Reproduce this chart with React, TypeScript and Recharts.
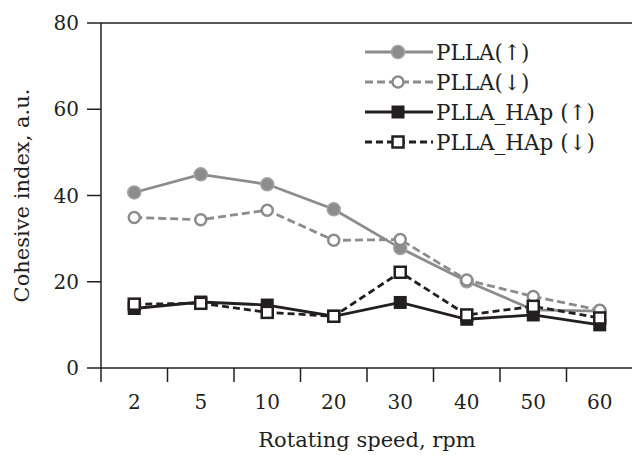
import { LineChart, Line, XAxis, YAxis, ReferenceLine } from "recharts"

// values
const SPEEDS = ["2", "5", "10", "20", "30", "40", "50", "60"]
const PLLA_UP = [40.7, 44.9, 42.6, 36.8, 27.8, 20.1, 13.5, 13.2]
const PLLA_DOWN = [34.9, 34.4, 36.6, 29.6, 29.8, 20.4, 16.6, 13.4]
const HAP_UP = [13.8, 15.3, 14.6, 12.0, 15.2, 11.3, 12.3, 10.0]
const HAP_DOWN = [14.8, 15.0, 12.9, 12.0, 22.2, 12.3, 14.3, 11.6]
const Y_TICKS = [0, 20, 40, 60, 80]

const INK = "#231f20"
const GREY = "#8c8c8c"
const FONT = "'DejaVu Serif', serif"

const W = 632
const H = 455
const PLOT_LEFT = 101
const AXIS_Y = 368
const BAND = (W + 1 - PLOT_LEFT) / SPEEDS.length

const SERIES = [
  { key: "pllaUp", name: "PLLA(↑)", color: GREY, dash: undefined, marker: "circle" },
  { key: "pllaDown", name: "PLLA(↓)", color: GREY, dash: "8 4", marker: "ring" },
  { key: "hapUp", name: "PLLA_HAp (↑)", color: INK, dash: undefined, marker: "square" },
  { key: "hapDown", name: "PLLA_HAp (↓)", color: INK, dash: "7 4", marker: "box" },
]

const data = SPEEDS.map((s, i) => ({
  speed: s,
  pllaUp: PLLA_UP[i],
  pllaDown: PLLA_DOWN[i],
  hapUp: HAP_UP[i],
  hapDown: HAP_DOWN[i],
}))

function Marker({ kind, cx, cy, color }: { kind: string; cx: number; cy: number; color: string }) {
  if (kind === "circle") return <circle cx={cx} cy={cy} r={6.5} fill={color} stroke="#a3a3a3" strokeWidth={1.5} />
  if (kind === "ring") return <circle cx={cx} cy={cy} r={5.5} fill="#fff" stroke={color} strokeWidth={2.5} />
  if (kind === "square") return <rect x={cx - 6.5} y={cy - 6.5} width={13} height={13} fill={color} />
  return <rect x={cx - 5.5} y={cy - 5.5} width={11} height={11} fill="#fff" stroke={color} strokeWidth={2.5} />
}

const dotFor = (kind: string, color: string) => (p: any) =>
  p.cx == null ? <g key={p.index} /> : <Marker key={p.index} kind={kind} cx={p.cx} cy={p.cy} color={color} />

// category label in the middle, tick mark on the left edge of the band
function SpeedTick(props: any) {
  const { x, y, payload } = props
  const bx = x - BAND / 2
  return (
    <g>
      <line x1={bx} y1={AXIS_Y} x2={bx} y2={AXIS_Y + 14} stroke={INK} strokeWidth={1.5} />
      <text x={x} y={y} dy="0.71em" textAnchor="middle" fill={INK} fontSize={20} fontFamily={FONT}>
        {payload.value}
      </text>
    </g>
  )
}

function LegendBox() {
  return (
    <div style={{ position: "absolute", top: 37, left: 363, fontFamily: FONT, fontSize: 21.5, color: INK }}>
      {SERIES.map((s) => (
        <div key={s.key} style={{ display: "flex", alignItems: "center", height: 30 }}>
          <svg width={71} height={30}>
            <line x1={2} y1={15} x2={70} y2={15} stroke={s.color} strokeWidth={2.8} strokeDasharray={s.dash} />
            <Marker kind={s.marker} cx={35} cy={15} color={s.color} />
          </svg>
          <span style={{ marginLeft: 2, whiteSpace: "nowrap" }}>{s.name}</span>
        </div>
      ))}
    </div>
  )
}

export default function App() {
  return (
    <div style={{ position: "absolute", left: 0, top: 0, width: W, height: H, background: "#fff" }}>
      <LineChart
        width={W + 1}
        height={H}
        data={data}
        margin={{ top: 23, right: 0, bottom: 0, left: 0 }}
        style={{ fontFamily: FONT }}
      >
        <XAxis
          dataKey="speed"
          height={H - AXIS_Y}
          padding={{ left: BAND / 2, right: BAND / 2 }}
          axisLine={{ stroke: INK, strokeWidth: 1.5 }}
          tickLine={false}
          tickSize={14}
          tickMargin={13}
          interval={0}
          tick={<SpeedTick />}
          label={{ value: "Rotating speed, rpm", position: "insideBottom", offset: 8, fill: INK, fontSize: 21 }}
        />
        <YAxis
          width={PLOT_LEFT}
          domain={[0, 80]}
          ticks={Y_TICKS}
          axisLine={{ stroke: INK, strokeWidth: 1.5 }}
          tickLine={{ stroke: INK, strokeWidth: 1.5 }}
          tickSize={14}
          tickMargin={8}
          tick={{ fill: INK, fontSize: 20 }}
          label={{ value: "Cohesive index, a.u.", angle: -90, position: "insideLeft", offset: 22, fill: INK, fontSize: 21, style: { textAnchor: "middle" } }}
        />
        <ReferenceLine y={80} stroke={INK} strokeWidth={1.5} />
        {SERIES.map((s) => (
          <Line
            key={s.key}
            dataKey={s.key}
            name={s.name}
            stroke={s.color}
            strokeWidth={2.8}
            strokeDasharray={s.dash}
            dot={dotFor(s.marker, s.color)}
            activeDot={false}
            isAnimationActive={false}
          />
        ))}
      </LineChart>
      <LegendBox />
    </div>
  )
}
